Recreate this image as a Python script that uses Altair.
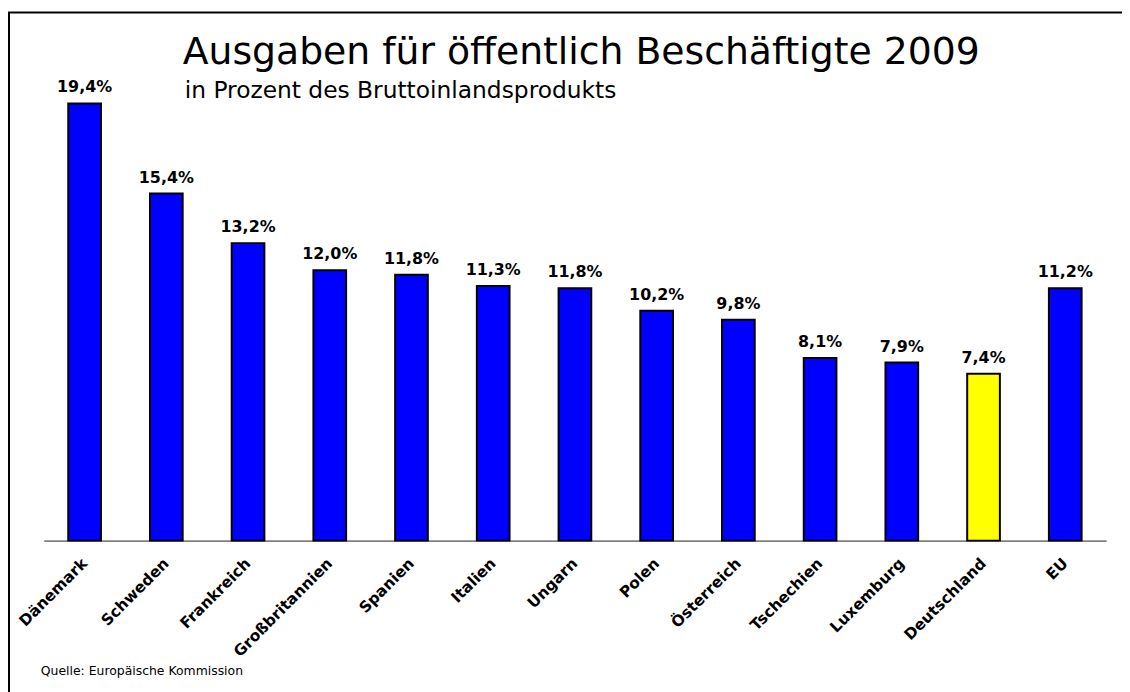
import altair as alt
import pandas as pd

laender = ["Dänemark", "Schweden", "Frankreich", "Großbritannien", "Spanien", "Italien",
           "Ungarn", "Polen", "Österreich", "Tschechien", "Luxemburg", "Deutschland", "EU"]
werte = [19.4, 15.4, 13.2, 12.0, 11.8, 11.3, 11.2, 10.2, 9.8, 8.1, 7.9, 7.4, 11.2]
beschriftung = ["19,4%", "15,4%", "13,2%", "12,0%", "11,8%", "11,3%", "11,8%", "10,2%",
                "9,8%", "8,1%", "7,9%", "7,4%", "11,2%"]

titel = "Ausgaben für öffentlich Beschäftigte 2009"
untertitel = "in Prozent des Bruttoinlandsprodukts"
quelle = "Quelle: Europäische Kommission"

df = pd.DataFrame({"Land": laender, "Wert": werte, "Label": beschriftung})

FONT = "DejaVu Sans"

x = alt.X(
    "Land:N",
    sort=laender,
    scale=alt.Scale(paddingInner=0.6, paddingOuter=0.3),
    axis=alt.Axis(
        title=None, labelAngle=-45, labelAlign="right", labelBaseline="middle",
        labelFont=FONT, labelFontWeight="bold", labelFontSize=15.5, labelColor="black",
        labelPadding=20, ticks=False, domainColor="#808080", domainWidth=2,
        labelOverlap=False, grid=False,
    ),
)
y = alt.Y("Wert:Q", scale=alt.Scale(domain=[0, 20], nice=False, zero=True), axis=None)

base = alt.Chart(df).encode(x=x, y=y)

bars = base.mark_bar(stroke="black", strokeWidth=2).encode(
    color=alt.condition(alt.datum.Land == "Deutschland", alt.value("#FFFF00"), alt.value("#0000FF"))
)

labels = base.mark_text(
    font=FONT, fontWeight="bold", fontSize=16, baseline="bottom", dy=-8, color="black"
).encode(text="Label:N")

title_t = alt.Chart(pd.DataFrame({"t": [titel]})).mark_text(
    font=FONT, fontSize=38, align="left", baseline="alphabetic", color="black"
).encode(text="t:N", x=alt.value(140), y=alt.value(-26))

sub_t = alt.Chart(pd.DataFrame({"t": [untertitel]})).mark_text(
    font=FONT, fontSize=23.5, align="left", baseline="alphabetic", color="black"
).encode(text="t:N", x=alt.value(142), y=alt.value(8))

src_t = alt.Chart(pd.DataFrame({"t": [quelle]})).mark_text(
    font=FONT, fontSize=12.5, align="left", baseline="alphabetic", color="black"
).encode(text="t:N", x=alt.value(-3), y=alt.value(589))

frame = alt.Chart(pd.DataFrame({"a": [0]})).mark_rect(
    fill="transparent", stroke="black", strokeWidth=2
).encode(x=alt.value(-35), x2=alt.value(1200), y=alt.value(-78), y2=alt.value(800))

chart = alt.layer(bars, labels, title_t, sub_t, src_t, frame).properties(
    width=1070,
    height=454,
    padding={"left": 36, "top": 80, "right": 16, "bottom": 150},
    autosize=alt.AutoSizeParams(type="none"),
).configure_view(stroke=None)

chart.save("out.html", embed_options={"renderer": "svg", "actions": False})
